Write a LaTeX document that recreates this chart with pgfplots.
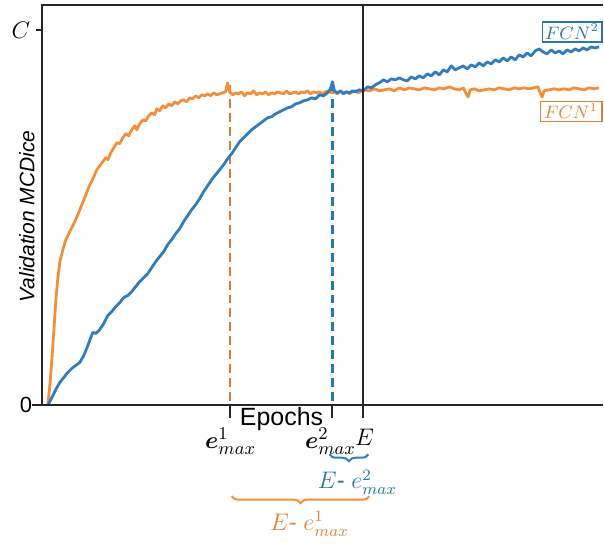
\documentclass[border=0pt]{standalone}
\usepackage{pgfplots}
\pgfplotsset{compat=1.18}
\usepackage{fontspec}
\setmainfont{Liberation Sans}
\usepackage{bm}
\usetikzlibrary{decorations.pathreplacing}
\definecolor{cOr}{RGB}{243,142,58}
\definecolor{cBl}{RGB}{48,124,188}
\definecolor{cOrT}{RGB}{222,132,58}
\definecolor{cBlT}{RGB}{38,118,178}
\definecolor{cOrD}{RGB}{210,125,55}
\pgfplotstableread{
x y
48 0
50 21
52 46
54 76
56 106
58 128
60 144
63 156
66 166
70 174
74 182
78 191
82 201
86 211
90 221
94 229
97 236
100 240
103 244
106 248
108 246
111 253
114 258
117 263
120 262
123 268
126 272
129 270
132 276
135 280
137 276
140 282
143 286
146 285
149 290
152 293
155 291
157 297
160 295
163 300
166 298
169 302
172 300
175 304
178 302
181 305
184 306
187 304
190 308
193 307
196 310
199 308
202 311
205 310
208 312
211 310
214 313
217 311
220 312
223 313
226 314
228 323
230 314
233 311
236 313
239 312
242 314
245 310
248 313
251 312
254 315
257 311
260 313
263 312
266 314
269 311
272 313
275 312
278 314
281 313
284 312
287 315
290 312
293 313
296 314
299 312
302 314
305 313
308 315
311 312
314 314
317 313
320 314
323 312
326 314
329 315
332 313
335 314
338 312
341 315
344 313
347 314
350 312
353 314
356 315
359 313
362 315
365 316
370 315
375 317
380 315
385 316
390 317
395 315
400 318
405 316
410 318
415 317
420 316
425 318
430 317
435 316
440 318
445 317
450 319
455 317
460 316
464 318
467 312
469 309
471 316
475 317
480 315
485 316
490 317
495 316
500 318
505 317
510 316
515 318
520 317
525 318
530 317
535 318
539 319
541 313
543 309
545 315
550 316
555 317
560 316
565 317
570 316
575 318
580 317
585 316
590 318
595 317
600 318
}\fcnone
\pgfplotstableread{
x y
48 0
52 8
56 16
60 23
64 28
68 33
72 37
76 40
80 43
84 50
88 60
91 68
93 73
96 72
100 76
104 82
108 90
112 94
116 99
120 103
124 108
128 110
132 114
136 119
140 124
144 128
148 132
152 138
156 144
160 149
164 154
168 161
172 166
176 172
180 177
184 184
188 190
192 196
196 201
200 207
204 214
208 220
212 226
216 231
220 236
224 241
228 247
232 252
236 258
240 264
244 268
248 272
252 276
256 279
260 282
264 285
268 288
272 289
276 292
280 294
284 296
288 298
292 299
296 302
300 303
304 305
308 306
312 308
316 307
320 311
324 310
328 313
331 317
333 324
335 315
338 313
341 315
344 312
347 314
350 313
353 315
356 314
360 316
364 315
368 319
372 318
376 321
380 323
384 326
388 324
392 327
396 326
400 328
404 326
408 325
412 329
416 327
420 330
424 328
428 332
432 330
436 334
440 331
444 336
448 334
452 340
456 336
460 338
464 340
468 337
472 341
476 339
480 343
484 340
488 344
492 342
496 346
500 344
504 348
508 345
512 349
516 346
520 351
524 349
528 353
532 350
536 355
540 357
544 354
548 352
552 356
556 353
560 355
564 352
568 356
572 354
576 357
580 355
584 358
588 356
592 359
596 358
600 359
}\fcntwo
\begin{document}
\begin{tikzpicture}
\begin{axis}[
  scale only axis,
  width=281pt, height=200.5pt,
  xmin=42, xmax=604, ymin=0, ymax=401,
  axis line style={draw=none},
  xtick=\empty, ytick=\empty,
  clip=false,
]
\path (axis cs:0,-136) rectangle (axis cs:604,406);
% dashed markers
\draw[cOrD, line width=1.1pt, dash pattern=on 4.5pt off 2.5pt] (axis cs:230,321) -- (axis cs:230,0);
\draw[cBlT, line width=1.1pt, dash pattern=on 4.5pt off 2.5pt] (axis cs:333,321) -- (axis cs:333,0);
\addplot[cOr, line width=1.4pt, line join=round] table[x=x,y=y] {\fcnone};
\addplot[cBl, line width=1.4pt, line join=round] table[x=x,y=y] {\fcntwo};
% axes frame
\draw[black!85, line width=1pt] (axis cs:42,401) -- (axis cs:42,0);
\draw[black!85, line width=1pt] (axis cs:32,0) -- (axis cs:604,0);
\draw[black!85, line width=1pt] (axis cs:41.5,401) -- (axis cs:604,401);
\draw[black!85, line width=1pt] (axis cs:36,376) -- (axis cs:42,376);
\draw[black!85, line width=1pt] (axis cs:364,401) -- (axis cs:364,-13);
\draw[black!85, line width=1pt] (axis cs:230,0) -- (axis cs:230,-13);
\draw[black!85, line width=1pt] (axis cs:333,0) -- (axis cs:333,-13);
% tick labels
\node[font=\fontsize{12}{14}\selectfont] at (axis cs:21,376) {$C$};
\node[font=\fontsize{11}{13}\selectfont] at (axis cs:26,0) {0};
\node[rotate=90, font=\fontsize{10.5}{12}\selectfont\itshape] at (axis cs:27,189) {Validation MCDice};
\node[inner sep=0pt, font=\fontsize{12.5}{14}\selectfont] at (axis cs:282,-14) {Epochs};
\node[inner sep=0pt, font=\fontsize{12.5}{14}\selectfont] at (axis cs:231,-36) {$\bm{e}^{1}_{max}$};
\node[inner sep=0pt, font=\fontsize{12.5}{14}\selectfont] at (axis cs:331,-36) {$\bm{e}^{2}_{max}$};
\node[inner sep=0pt, font=\fontsize{13}{15}\selectfont] at (axis cs:365,-32) {$E$};
% braces
\draw[cBl, line width=1pt, decorate, decoration={brace, mirror, amplitude=3.5pt}] (axis cs:330,-49) -- (axis cs:369,-49);
\node[cBlT, font=\fontsize{12}{14}\selectfont] at (axis cs:358,-77) {$E$- $e^{2}_{max}$};
\draw[cOr, line width=1pt, decorate, decoration={brace, mirror, amplitude=3.5pt}] (axis cs:232,-91) -- (axis cs:370,-91);
\node[cOrT, font=\fontsize{12}{14}\selectfont] at (axis cs:310,-119) {$E$- $e^{1}_{max}$};
% legend boxes
\node[draw=black!45, line width=0.6pt, minimum width=30pt, minimum height=10pt, inner sep=0pt, cBlT, font=\fontsize{9}{10}\selectfont] at (axis cs:573,374) {$FCN^{2}$};
\node[draw=black!45, line width=0.6pt, minimum width=31pt, minimum height=10pt, inner sep=0pt, cOrT, font=\fontsize{9}{10}\selectfont] at (axis cs:572,294.5) {$FCN^{1}$};
\end{axis}
\end{tikzpicture}
\end{document}
